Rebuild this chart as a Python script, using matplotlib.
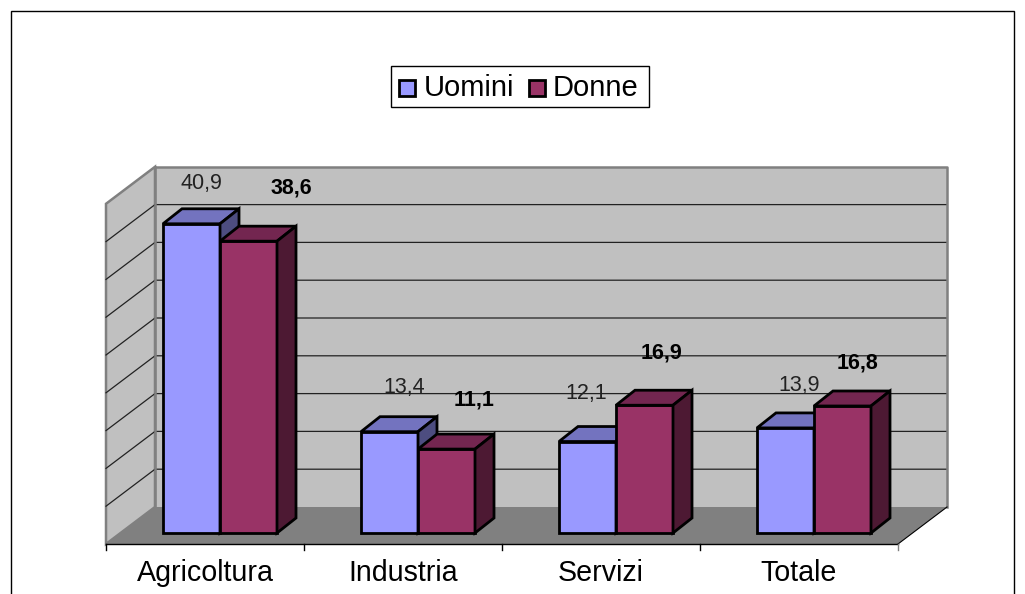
import matplotlib
matplotlib.use("Agg")
import matplotlib.pyplot as plt
from matplotlib.patches import Polygon, Rectangle

plt.rcParams["font.family"] = ["Liberation Sans", "DejaVu Sans"]

categorie = ["Agricoltura", "Industria", "Servizi", "Totale"]
uomini = [40.9, 13.4, 12.1, 13.9]
donne = [38.6, 11.1, 16.9, 16.8]
griglia = [0, 5, 10, 15, 20, 25, 30, 35, 40, 45]

# scale in pixel: one category = 198 px, one unit of value = 7.56 px
px_cat = 198.0
px_val = 7.56
W, H = 1025, 594
X0, Y0 = 106, 533   # left edge of first category, zero of the bars


def cx(px):
    return (px - X0) / px_cat


def vy(py):
    return (Y0 - py) / px_val


fig = plt.figure(figsize=(W / 100, H / 100), dpi=100)
ax = fig.add_axes([0, 0, 1, 1])
ax.set_xlim(cx(0), cx(W))
ax.set_ylim(vy(H), vy(0))
ax.axis("off")

# depth of the bars and of the floor, in data units
bar_dx, bar_dy = 19 / px_cat, 15 / px_val
wall_dx, wall_dy = 49 / px_cat, 37 / px_val
floor_x, floor_y = 0.0, -11 / px_val
back_x, back_y = floor_x + wall_dx, floor_y + wall_dy
n = len(categorie)
top = griglia[-1]

# outer frame
ax.add_patch(Rectangle((cx(11), vy(640)), (1014 - 11) / px_cat, (640 - 11) / px_val,
                       fc="white", ec="black", lw=1, zorder=0))

# back wall, side wall, floor
ax.add_patch(Polygon([(back_x, back_y), (back_x + n, back_y), (back_x + n, back_y + top), (back_x, back_y + top)],
                     fc="#c0c0c0", ec="none", zorder=1))
ax.add_patch(Polygon([(floor_x, floor_y), (back_x, back_y), (back_x, back_y + top), (floor_x, floor_y + top)],
                     fc="#c0c0c0", ec="#808080", lw=1.8, zorder=1))
ax.add_patch(Polygon([(floor_x, floor_y), (back_x, back_y), (back_x + n, back_y), (floor_x + n, floor_y)],
                     fc="#808080", ec="none", zorder=1))

# grid lines
for g in griglia[1:-1]:
    ax.plot([floor_x, back_x, back_x + n], [floor_y + g, back_y + g, back_y + g], color="#222222", lw=0.9, zorder=2)
ax.plot([back_x, back_x + n, back_x + n], [back_y + top, back_y + top, back_y], color="#808080", lw=1.8, zorder=2)
ax.plot([back_x, back_x], [back_y, back_y + top], color="#808080", lw=1.8, zorder=2)

# x axis and ticks
ax.plot([floor_x, floor_x + n], [floor_y, floor_y], color="black", lw=1, zorder=3)
ax.plot([floor_x + n, back_x + n], [floor_y, back_y], color="black", lw=0.8, zorder=3)
for i in range(n + 1):
    ax.plot([i, i], [floor_y, floor_y - 6 / px_val], color="black" if i < n else "#808080", lw=1, zorder=3)
for i, c in enumerate(categorie):
    ax.text(i + 0.5, vy(573), c, ha="center", va="center", fontsize=20.6, color="black")


def barra(x, w, v, c_front, c_top, c_side, z):
    ax.bar(x, v, width=w, align="edge", color=c_front, edgecolor="black", linewidth=2, zorder=z)
    ax.add_patch(Polygon([(x, v), (x + bar_dx, v + bar_dy), (x + w + bar_dx, v + bar_dy), (x + w, v)],
                         fc=c_top, ec="black", lw=2, joinstyle="miter", zorder=z))
    ax.add_patch(Polygon([(x + w, 0), (x + w + bar_dx, bar_dy), (x + w + bar_dx, v + bar_dy), (x + w, v)],
                         fc=c_side, ec="black", lw=2, joinstyle="miter", zorder=z))


largh = 57 / px_cat
start = 57 / px_cat
for i in range(n):
    barra(i + start, largh, uomini[i], "#9999ff", "#7373bf", "#4d4d80", 4 + i * 2)
    barra(i + start + largh, largh, donne[i], "#993366", "#732650", "#4d1933", 5 + i * 2)

# value labels, placed by hand like the original
pos_u = [(201, 183), (404, 388), (586, 393), (799, 385)]
pos_d = [(291, 188), (474, 400), (661, 353), (858, 363)]
for i in range(n):
    ax.text(cx(pos_u[i][0]), vy(pos_u[i][1]), f"{uomini[i]:.1f}".replace(".", ","), ha="center", va="center",
            fontsize=15.5, color="#222222", zorder=20)
    ax.text(cx(pos_d[i][0]), vy(pos_d[i][1]), f"{donne[i]:.1f}".replace(".", ","), ha="center", va="center",
            fontsize=15.5, fontweight="bold", color="black", zorder=20)

# legend
ax.add_patch(Rectangle((cx(391), vy(107)), (649 - 391) / px_cat, (107 - 66) / px_val,
                       fc="white", ec="black", lw=1, zorder=20))
ax.add_patch(Rectangle((cx(399), vy(96)), 16 / px_cat, 16 / px_val, fc="#9999ff", ec="black", lw=2, zorder=21))
ax.add_patch(Rectangle((cx(529), vy(96)), 16 / px_cat, 16 / px_val, fc="#993366", ec="black", lw=2, zorder=21))
ax.text(cx(424), vy(88), "Uomini", ha="left", va="center", fontsize=21, zorder=21)
ax.text(cx(553), vy(88), "Donne", ha="left", va="center", fontsize=21, zorder=21)

fig.savefig("out.png", dpi=100)
